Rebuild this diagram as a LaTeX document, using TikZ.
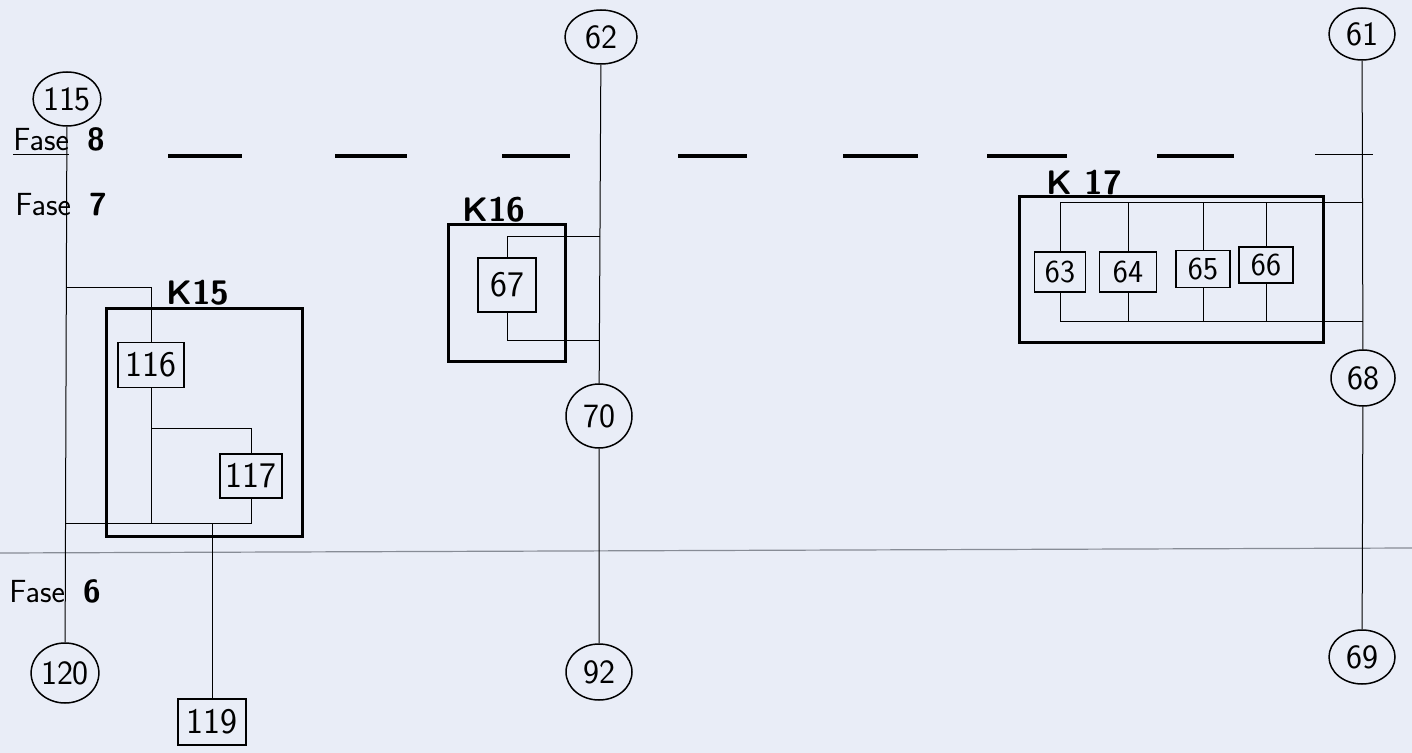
\documentclass[tikz,border=0pt]{standalone}
\usepackage{tikz}
\usetikzlibrary{shapes.geometric,positioning}

\definecolor{paper}{RGB}{233,237,247}
\definecolor{rulegray}{RGB}{135,140,150}

\tikzset{
  state/.style={ellipse, draw, line width=0.75pt, inner sep=0pt,
                minimum width=33pt, minimum height=27pt,
                font=\sffamily\fontsize{17}{17}\selectfont},
  task/.style={rectangle, draw, line width=0.9pt, inner sep=0pt,
               font=\sffamily\fontsize{18}{18}\selectfont},
  smalltask/.style={task, minimum width=27pt, minimum height=20pt,
                    font=\sffamily\fontsize{16}{16}\selectfont},
  group/.style={rectangle, draw, line width=1.5pt, inner sep=0pt},
  glabel/.style={anchor=base, font=\sffamily\bfseries\fontsize{17}{17}\selectfont},
  phase/.style={anchor=base west, inner sep=0pt,
                font=\sffamily\fontsize{16}{16}\selectfont},
  wire/.style={line width=0.5pt},
}

\begin{document}
\begin{tikzpicture}[x=0.5pt, y=-0.5pt]
  \fill[paper] (0,0) rectangle (1412,753);
  \useasboundingbox (0,0) rectangle (1412,753);

  % phase boundaries
  \foreach \a/\b in {168/242, 335/407, 502/570, 678/747, 843/918, 987/1067, 1157/1234}
    \draw[line width=2pt] (\a,156) -- (\b,156);
  \draw[wire] (1315,155) -- (1373,155);
  \draw[rulegray, line width=0.6pt] (0,553) -- (1412,548);

  \node[phase] (f8) at (13,151) {\underline{Fase}\hspace{9pt}\textbf{8}};
  \node[phase] (f7) at (15,216) {Fase\hspace{9pt}\textbf{7}};
  \node[phase] (f6) at (9,602) {Fase\hspace{9pt}\textbf{6}};

  % group frames
  \node[group, minimum width=98pt, minimum height=113.5pt] (k15) at (204,422.5) {};
  \node[group, minimum width=58.5pt, minimum height=68.5pt] (k16) at (506.5,293.5) {};
  \node[group, minimum width=152pt, minimum height=73pt] (k17) at (1171,270) {};
  \node[glabel] (k15l) at (198,305) {K15};
  \node[glabel] (k16l) at (494,222) {K16};
  \node[glabel] (k17l) at (1084,195) {K 17};

  % states
  \node[state] (n115) at (67,99) {115};
  \node[state, minimum height=30pt] (n120) at (65,673) {120};
  \node[state, minimum width=36pt] (n62) at (601,37) {62};
  \node[state, minimum height=32pt] (n70) at (599,416) {70};
  \node[state, minimum height=28pt] (n92) at (599,672) {92};
  \node[state, minimum height=26pt] (n61) at (1362,34) {61};
  \node[state, minimum width=32pt, minimum height=28pt] (n68) at (1363,378) {68};
  \node[state] (n69) at (1362,657) {69};

  % tasks
  \node[task, minimum width=33pt, minimum height=22.5pt] (b116) at (151,365) {116};
  \node[task, minimum width=31pt, minimum height=22pt] (b117) at (251,476) {117};
  \node[task, minimum width=34pt, minimum height=23pt] (b119) at (212,722) {119};
  \node[task, minimum width=29pt, minimum height=27pt] (b67) at (507,285) {67};
  \node[smalltask, minimum width=25.5pt] (b63) at (1060,272) {63};
  \node[smalltask, minimum width=28.5pt] (b64) at (1128,272) {64};
  \node[smalltask, minimum height=18.5pt] (b65) at (1203,269) {65};
  \node[smalltask, minimum height=18pt] (b66) at (1266,265) {66};

  % main lines
  \draw[wire] (n115) -- (n120);
  \draw[wire] (n62) -- (n70) -- (n92);
  \draw[wire] (n61) -- (n68) -- (n69);

  % K15
  \coordinate (t15) at (66,288);
  \coordinate (s117) at (151,428);
  \coordinate (l15) at (66,523);
  \coordinate (o15) at (212,523);
  \draw[wire] (t15) -| (b116);
  \draw[wire] (b116) -- (b116 |- l15);
  \draw[wire] (s117) -| (b117);
  \draw[wire] (b117) |- (l15);
  \draw[wire] (o15) -- (b119);

  % K16
  \coordinate (t16) at (600,237);
  \coordinate (u16) at (600,341);
  \draw[wire] (t16) -| (b67);
  \draw[wire] (b67) |- (u16);

  % K17
  \coordinate (t17) at (1363,203);
  \coordinate (u17) at (1363,322);
  \draw[wire] (t17) -| (b63);
  \draw[wire] (b63) |- (u17);
  \foreach \b in {b64,b65,b66} {
    \draw[wire] (\b |- t17) -- (\b);
    \draw[wire] (\b) -- (\b |- u17);
  }
\end{tikzpicture}
\end{document}
